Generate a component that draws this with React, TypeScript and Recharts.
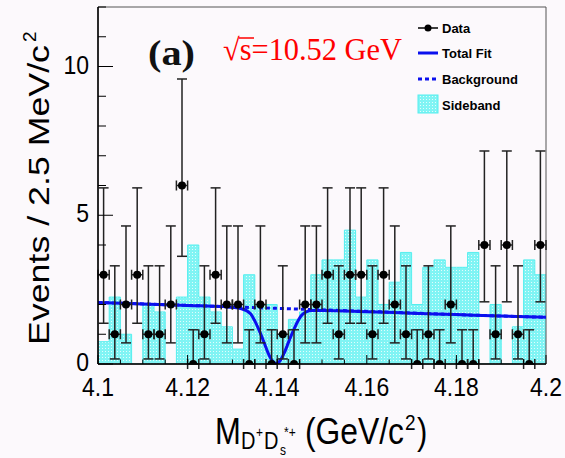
import React from 'react';
import {
  ComposedChart, Area, Line, Scatter, ErrorBar, XAxis, YAxis, ReferenceArea,
} from 'recharts';

// 2.5 MeV bins between 4.1 and 4.2 GeV
const binCenters = [
  4.10125, 4.10375, 4.10625, 4.10875, 4.11125, 4.11375, 4.11625, 4.11875, 4.12125, 4.12375,
  4.12625, 4.12875, 4.13125, 4.13375, 4.13625, 4.13875, 4.14125, 4.14375, 4.14625, 4.14875,
  4.15125, 4.15375, 4.15625, 4.15875, 4.16125, 4.16375, 4.16625, 4.16875, 4.17125, 4.17375,
  4.17625, 4.17875, 4.18125, 4.18375, 4.18625, 4.18875, 4.19125, 4.19375, 4.19625, 4.19875,
];
const binEdges = [
  4.1, 4.1025, 4.105, 4.1075, 4.11, 4.1125, 4.115, 4.1175, 4.12, 4.1225,
  4.125, 4.1275, 4.13, 4.1325, 4.135, 4.1375, 4.14, 4.1425, 4.145, 4.1475,
  4.15, 4.1525, 4.155, 4.1575, 4.16, 4.1625, 4.165, 4.1675, 4.17, 4.1725,
  4.175, 4.1775, 4.18, 4.1825, 4.185, 4.1875, 4.19, 4.1925, 4.195, 4.1975, 4.2,
];

const dataCounts = [
  3, 1, 2, 3, 1, 1, 2, 6, 0, 1,
  3, 2, 2, 0, 2, 0, 1, 0, 2, 2,
  3, 1, 3, 3, 1, 3, 2, 1, 0, 1,
  0, 2, 0, 0, 4, 1, 4, 1, 0, 4,
];
const sidebandValues = [
  0.75, 2.25, 1.0, 0, 2.0, 1.75, 0, 2.25, 4.0, 2.25,
  1.75, 1.25, 0.5, 3.0, 2.0, 2.0, 1.0, 1.5, 1.75, 3.0,
  3.5, 3.5, 4.5, 2.25, 3.5, 2.0, 2.75, 3.75, 2.0, 3.25,
  3.5, 3.25, 3.25, 3.75, 0, 2.0, 0, 1.25, 3.5, 3.0,
];

// poisson error bars as drawn, per observed count
const errDown: Record<number, number> = { 0: 0, 1: 0.83, 2: 1.29, 3: 1.63, 4: 1.91, 6: 2.38 };
const errUp: Record<number, number> = { 0: 1.15, 1: 2.3, 2: 2.64, 3: 2.92, 4: 3.16, 6: 3.58 };
const halfBin = 0.00125;

// fit curves
const fitX = [
  4.1, 4.11, 4.12, 4.128, 4.132, 4.134, 4.135, 4.136, 4.137, 4.138, 4.139, 4.1398,
  4.1406, 4.1416, 4.1426, 4.1436, 4.1446, 4.1456, 4.1476, 4.15, 4.16, 4.17, 4.18, 4.19, 4.2,
];
const fitTotal = [
  2.07, 2.02, 1.97, 1.93, 1.86, 1.7, 1.45, 1.12, 0.75, 0.36, 0.09, 0.02,
  0.1, 0.38, 0.76, 1.12, 1.44, 1.66, 1.8, 1.8, 1.76, 1.71, 1.66, 1.61, 1.57,
];
const bkgX = [4.1, 4.12, 4.14, 4.16, 4.18, 4.2];
const bkgValues = [2.07, 1.97, 1.87, 1.77, 1.66, 1.57];

const xTicks = [
  4.1, 4.105, 4.11, 4.115, 4.12, 4.125, 4.13, 4.135, 4.14, 4.145, 4.15,
  4.155, 4.16, 4.165, 4.17, 4.175, 4.18, 4.185, 4.19, 4.195, 4.2,
];
const xMajorTicks = [4.1, 4.12, 4.14, 4.16, 4.18, 4.2];
const xTickLabels = ['4.1', '4.12', '4.14', '4.16', '4.18', '4.2'];
const yTicks = [0, 1, 2, 3, 4, 5, 6, 7, 8, 9, 10, 11, 12];
const yMajorTicks = [0, 5, 10];
const yTickLabels = ['0', '5', '10'];

const BLUE = '#0b10ee';
const BG = '#fcf9fc';
const CYAN = '#80f4f4';
const CYAN_DOT = '#e2fcfc';
const SANS = '"Liberation Sans", Arial, Helvetica, sans-serif';
const SERIF = '"Liberation Serif", "Times New Roman", serif';

const points = binCenters.map((x, i) => ({
  x,
  y: dataCounts[i],
  ey: [errDown[dataCounts[i]], errUp[dataCounts[i]]],
  ex: halfBin,
}));
const histTable = binEdges.map((x, i) => ({ x, sb: sidebandValues[Math.min(i, sidebandValues.length - 1)] }));
const fitTable = fitX.map((x, i) => ({ x, total: fitTotal[i] }));
const bkgTable = bkgX.map((x, i) => ({ x, bkg: bkgValues[i] }));

const XTick = ({ x, y, payload }: any) => {
  const idx = xMajorTicks.findIndex((t) => Math.abs(t - payload.value) < 1e-7);
  const major = idx >= 0;
  return (
    <g>
      <line x1={x} x2={x} y1={y} y2={y - (major ? 9 : 4.5)} stroke="#000" strokeWidth={1} />
      {major && (
        <text
          transform={`translate(${x},${y + 32}) scale(1,1.12)`}
          textAnchor="middle"
          fontFamily={SANS}
          fontSize={23}
          fill="#000"
        >
          {xTickLabels[idx]}
        </text>
      )}
    </g>
  );
};

const YTick = ({ x, y, payload }: any) => {
  const idx = yMajorTicks.indexOf(payload.value);
  const major = idx >= 0;
  return (
    <g>
      <line x1={x} x2={x + (major ? 15 : 8)} y1={y} y2={y} stroke="#000" strokeWidth={1} />
      {major && (
        <text
          transform={`translate(${x - 9},${y + 7}) scale(1,1.12)`}
          textAnchor="end"
          fontFamily={SANS}
          fontSize={23}
          fill="#000"
        >
          {yTickLabels[idx]}
        </text>
      )}
    </g>
  );
};

const Dot = (props: any) => {
  const { cx, cy } = props;
  return <circle cx={cx} cy={cy} r={4} fill="#000" />;
};

const Overlay = () => (
  <svg width={565} height={458} style={{ position: 'absolute', left: 0, top: 0, pointerEvents: 'none' }}>
    <defs>
      <pattern id="sbPatLegend" width="3" height="3" patternUnits="userSpaceOnUse">
        <rect width="3" height="3" fill={CYAN} />
        <rect width="1" height="1" fill={CYAN_DOT} />
      </pattern>
    </defs>
    {/* (a) label */}
    <text x={148} y={65} fontFamily={SERIF} fontWeight="bold" fontSize={36} textLength={47} lengthAdjust="spacingAndGlyphs" fill="#111">(a)</text>
    {/* energy */}
    <text x={223} y={60} fontFamily={SERIF} fontSize={31} textLength={179} lengthAdjust="spacingAndGlyphs" fill="#ff0000">√s=10.52 GeV</text>
    <line x1={239} x2={254} y1={38} y2={38} stroke="#ff0000" strokeWidth={1.5} />

    {/* legend */}
    <line x1={418} x2={438} y1={28} y2={28} stroke="#000" strokeWidth={1.5} />
    <circle cx={428} cy={28} r={3.5} fill="#000" />
    <text x={442} y={32.5} fontFamily={SANS} fontWeight="bold" fontSize={13} fill="#000">Data</text>
    <line x1={418} x2={438} y1={53} y2={53} stroke={BLUE} strokeWidth={3} />
    <text x={442} y={57.5} fontFamily={SANS} fontWeight="bold" fontSize={13} fill="#000">Total Fit</text>
    <line x1={418} x2={438} y1={79} y2={79} stroke={BLUE} strokeWidth={3} strokeDasharray="4 3" />
    <text x={442} y={83.5} fontFamily={SANS} fontWeight="bold" fontSize={13} fill="#000">Background</text>
    <rect x={418} y={95} width={20} height={18} fill="url(#sbPatLegend)" stroke="#55eeee" strokeWidth={1} />
    <text x={442} y={110} fontFamily={SANS} fontWeight="bold" fontSize={13} fill="#000">Sideband</text>

    {/* y title */}
    <g transform="translate(49,345) rotate(-90)">
      <text x={0} y={0} fontFamily={SANS} fontSize={30} textLength={300} lengthAdjust="spacingAndGlyphs" fill="#000">Events / 2.5 MeV/c</text>
      <text x={303} y={-13} fontFamily={SANS} fontSize={19} fill="#000">2</text>
    </g>

    {/* x title */}
    <g transform="translate(0,444) scale(1,1.2)">
      <text x={215} y={0} fontFamily={SANS} fontSize={31} fill="#000">M</text>
      <text x={241} y={4.5} fontFamily={SANS} fontSize={20} fill="#000">D</text>
      <text x={256} y={-6} fontFamily={SANS} fontSize={12} fill="#000">+</text>
      <text x={264} y={4.5} fontFamily={SANS} fontSize={20} fill="#000">D</text>
      <text x={280} y={9.5} fontFamily={SANS} fontSize={12} fill="#000">s</text>
      <text x={284} y={-6} fontFamily={SANS} fontSize={12} fill="#000">*+</text>
      <text x={305} y={0} fontFamily={SANS} fontSize={31} textLength={99} lengthAdjust="spacingAndGlyphs" fill="#000">(GeV/c</text>
      <text x={405} y={-12} fontFamily={SANS} fontSize={19} fill="#000">2</text>
      <text x={417} y={0} fontFamily={SANS} fontSize={31} fill="#000">)</text>
    </g>
  </svg>
);

const App: React.FC = () => {
  return (
    <div style={{ position: 'absolute', left: 0, top: 0, width: 565, height: 458, background: BG }}>
      <ComposedChart width={565} height={458} margin={{ top: 7, right: 19, bottom: 64, left: 38 }}>
        <defs>
          <pattern id="sbPat" width="3" height="3" patternUnits="userSpaceOnUse">
            <rect width="3" height="3" fill={CYAN} />
            <rect width="1" height="1" fill={CYAN_DOT} />
          </pattern>
        </defs>
        <XAxis
          dataKey="x"
          type="number"
          domain={[4.1, 4.2]}
          ticks={xTicks}
          interval={0}
          allowDataOverflow
          tick={<XTick />}
          tickLine={false}
          tickSize={0}
          tickMargin={0}
          height={30}
          axisLine={{ stroke: '#000', strokeWidth: 1.5 }}
        />
        <YAxis
          type="number"
          domain={[0, 12]}
          ticks={yTicks}
          interval={0}
          allowDataOverflow
          tick={<YTick />}
          tickLine={false}
          tickSize={0}
          tickMargin={0}
          width={60}
          axisLine={{ stroke: '#000', strokeWidth: 1.5 }}
        />
        <Area
          data={histTable}
          dataKey="sb"
          type="stepAfter"
          fill="url(#sbPat)"
          fillOpacity={1}
          stroke="#55eeee"
          strokeWidth={1}
          isAnimationActive={false}
        />
        <Line
          data={bkgTable}
          dataKey="bkg"
          type="monotone"
          dot={false}
          stroke={BLUE}
          strokeWidth={3}
          strokeDasharray="4 3"
          isAnimationActive={false}
        />
        <Line
          data={fitTable}
          dataKey="total"
          type="monotone"
          dot={false}
          stroke={BLUE}
          strokeWidth={3}
          isAnimationActive={false}
        />
        <Scatter data={points} dataKey="y" shape={<Dot />} isAnimationActive={false}>
          <ErrorBar dataKey="ey" direction="y" width={5} stroke="#222" strokeWidth={1.5} isAnimationActive={false} />
          <ErrorBar dataKey="ex" direction="x" width={5} stroke="#222" strokeWidth={1.5} isAnimationActive={false} />
        </Scatter>
        <ReferenceArea x1={4.1} x2={4.2} y1={0} y2={12} fill="none" stroke="#555" strokeWidth={1} />
      </ComposedChart>
      <Overlay />
    </div>
  );
};

export default App;
